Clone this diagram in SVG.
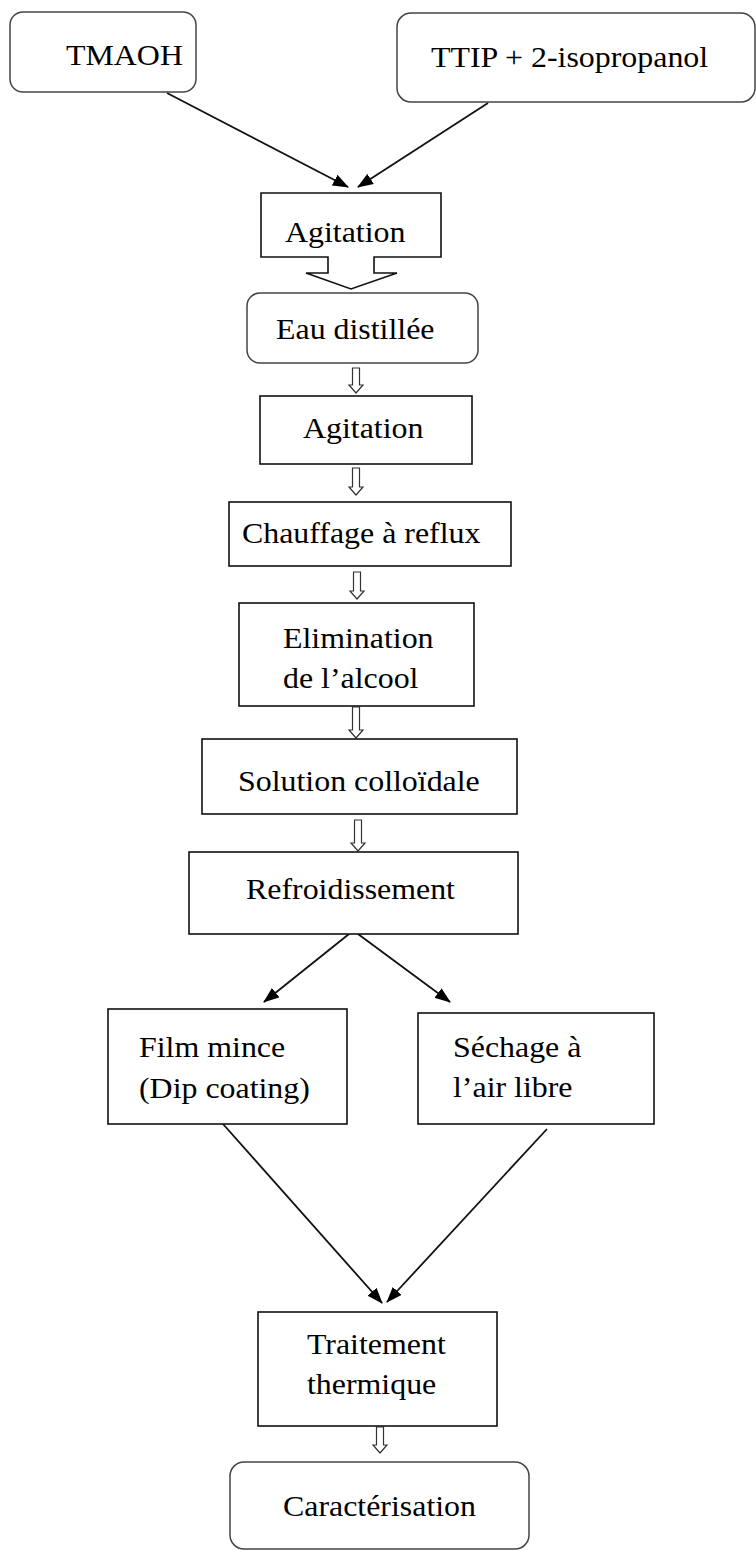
<svg xmlns="http://www.w3.org/2000/svg" width="756" height="1550" viewBox="0 0 756 1550">
  <defs>
    <style>
      .box { fill: #fff; stroke: #111; stroke-width: 1.6; }
      .rbox { fill: #fff; stroke: #444; stroke-width: 1.5; }
      .lbl { font-family: "Liberation Serif", "Times New Roman", serif; font-size: 29px; fill: #000; }
      .line { stroke: #111; stroke-width: 1.8; fill: none; }
      .blk { fill: #fff; stroke: #333; stroke-width: 1.2; }
    </style>
    <marker id="head" viewBox="0 0 16 12" refX="15" refY="6" markerWidth="16" markerHeight="12" markerUnits="userSpaceOnUse" orient="auto">
      <path d="M0,0 L16,6 L0,12 Z" fill="#000"/>
    </marker>
  </defs>

  <rect width="756" height="1550" fill="#fff"/>

  <!-- connectors -->
  <g id="connectors">
    <line class="line" x1="167" y1="93" x2="348" y2="187" marker-end="url(#head)"/>
    <line class="line" x1="488" y1="103" x2="358" y2="187" marker-end="url(#head)"/>
    <line class="line" x1="349" y1="934" x2="264" y2="1002" marker-end="url(#head)"/>
    <line class="line" x1="358" y1="934" x2="450" y2="1002" marker-end="url(#head)"/>
    <line class="line" x1="223" y1="1124" x2="382" y2="1303" marker-end="url(#head)"/>
    <line class="line" x1="547" y1="1129" x2="387" y2="1302" marker-end="url(#head)"/>
    <!-- small hollow block arrows between steps -->
    <path class="blk" d="M352.5,368 H359.5 V385 H363 L356,393 L349,385 H352.5 Z"/>
    <path class="blk" d="M352.5,468 H359.5 V487 H363 L356,495 L349,487 H352.5 Z"/>
    <path class="blk" d="M353.5,572 H360.5 V591 H364 L357,599 L350,591 H353.5 Z"/>
    <path class="blk" d="M352.5,707 H359.5 V730 H363 L356,738 L349,730 H352.5 Z"/>
    <path class="blk" d="M354.5,820 H361.5 V843 H365 L358,851 L351,843 H354.5 Z"/>
    <path class="blk" d="M376.5,1427 H383.5 V1445 H387 L380,1453 L373,1445 H376.5 Z"/>
  </g>

  <g id="n-tmaoh">
    <rect class="rbox" x="10" y="12" width="186" height="80" rx="13"/>
    <text class="lbl" transform="translate(66 65) scale(1.1 1)">TMAOH</text>
  </g>

  <g id="n-ttip">
    <rect class="rbox" x="397" y="13" width="358" height="89" rx="14"/>
    <text class="lbl" transform="translate(431 67) scale(1.1 1)">TTIP + 2-isopropanol</text>
  </g>

  <g id="n-agitation1">
    <path class="box" d="M261,193 H441 V257 H374 V273 H397 L351,289 L306,273 H328 V257 H261 Z"/>
    <text class="lbl" transform="translate(285 242) scale(1.1 1)">Agitation</text>
  </g>

  <g id="n-eau">
    <rect class="rbox" x="247" y="293" width="231" height="70" rx="13"/>
    <text class="lbl" transform="translate(276 339) scale(1.1 1)">Eau distillée</text>
  </g>

  <g id="n-agitation2">
    <rect class="box" x="260" y="396" width="212" height="68"/>
    <text class="lbl" transform="translate(303 438) scale(1.1 1)">Agitation</text>
  </g>

  <g id="n-chauffage">
    <rect class="box" x="229" y="502" width="282" height="64"/>
    <text class="lbl" transform="translate(242 543) scale(1.1 1)">Chauffage à reflux</text>
  </g>

  <g id="n-elimination">
    <rect class="box" x="239" y="603" width="235" height="103"/>
    <text class="lbl" transform="translate(283 648) scale(1.1 1)">Elimination</text>
    <text class="lbl" transform="translate(283 688) scale(1.1 1)">de l’alcool</text>
  </g>

  <g id="n-solution">
    <rect class="box" x="202" y="739" width="315" height="75"/>
    <text class="lbl" transform="translate(238 791) scale(1.1 1)">Solution colloïdale</text>
  </g>

  <g id="n-refroid">
    <rect class="box" x="189" y="852" width="329" height="82"/>
    <text class="lbl" transform="translate(246 899) scale(1.1 1)">Refroidissement</text>
  </g>

  <g id="n-film">
    <rect class="box" x="108" y="1009" width="239" height="115"/>
    <text class="lbl" transform="translate(139 1057) scale(1.1 1)">Film mince</text>
    <text class="lbl" transform="translate(139 1098) scale(1.1 1)">(Dip coating)</text>
  </g>

  <g id="n-sechage">
    <rect class="box" x="418" y="1013" width="236" height="111"/>
    <text class="lbl" transform="translate(453 1057) scale(1.1 1)">Séchage à</text>
    <text class="lbl" transform="translate(453 1097) scale(1.1 1)">l’air libre</text>
  </g>

  <g id="n-traitement">
    <rect class="box" x="258" y="1312" width="239" height="114"/>
    <text class="lbl" transform="translate(307 1354) scale(1.1 1)">Traitement</text>
    <text class="lbl" transform="translate(307 1394) scale(1.1 1)">thermique</text>
  </g>

  <g id="n-caracterisation">
    <rect class="rbox" x="230" y="1462" width="299" height="87" rx="14"/>
    <text class="lbl" transform="translate(283 1516) scale(1.1 1)">Caractérisation</text>
  </g>
</svg>
